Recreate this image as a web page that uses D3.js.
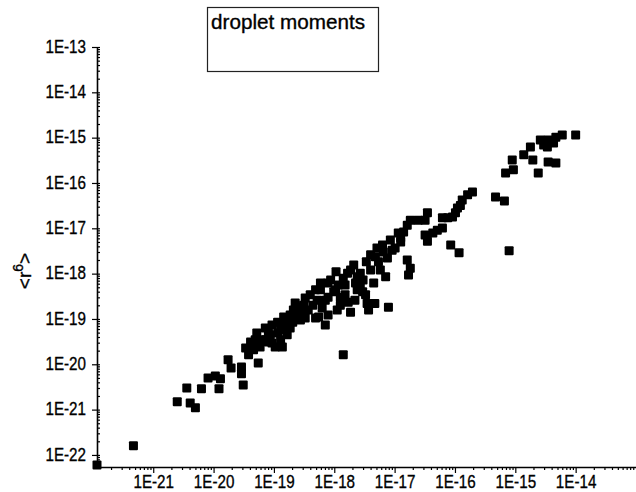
<!DOCTYPE html>
<html><head><meta charset="utf-8">
<script src="https://cdn.jsdelivr.net/npm/d3@7"></script>
<style>body{margin:0;background:#fff}svg{display:block}</style>
</head><body><svg id="c" width="636" height="492"></svg>
<script>
// <r^3> (x) values
const xVals = [
1.17e-22,4.7e-22,2.5e-21,3.6e-21,4.1e-21,5.0e-21,6.3e-21,8.1e-21,1.07e-20,1.3e-20,
1.23e-20,1.74e-20,1.95e-20,2.9e-20,2.9e-20,3.1e-20,5.5e-20,3.4e-20,4.1e-20,4.6e-20,
5.2e-20,5.9e-20,6.6e-20,7.2e-20,8.1e-20,9.3e-20,9.3e-20,1.05e-19,1.15e-19,1.38e-19,
1.45e-19,1.66e-19,1.86e-19,2.1e-19,2.75e-19,2.75e-19,3.3e-19,3.3e-19,3.1e-19,4.9e-19,
4.9e-19,5.2e-19,5.5e-19,7.1e-19,8.7e-19,7.9e-19,1.12e-18,1.41e-18,1.86e-18,1.66e-18,
2.1e-18,2.7e-18,2.4e-18,3.7e-18,4.7e-18,4.5e-18,5.8e-18,7.1e-18,7.6e-18,5.1e-18,
7.9e-18,1.62e-17,1.82e-17,1.7e-17,1.02e-17,1.26e-17,3.5e-17,8.5e-17,1.17e-16,7.9e-16,
1.0e-14,6.0e-15,4.7e-15,3.5e-15,2.95e-15,2.6e-15,4.3e-15,3.4e-15,1.78e-15,1.38e-15,
1.95e-15,8.9e-16,9.3e-16,6.9e-16,3.5e-15,4.7e-15,2.4e-15,4.7e-16,6.6e-16,1.95e-16,
1.62e-16,1.32e-16,1.23e-16,1.1e-16,1.02e-16,9.1e-17,7.6e-17,6.2e-17,3.5e-17,3.2e-17,
2.45e-17,1.82e-17,1.62e-17,1.41e-17,1.26e-17,6.2e-17,5.1e-17,4.3e-17,3.2e-17,6.3e-18,
1.15e-17,9.1e-18,6.5e-18,4.8e-18,1.86e-18,2.4e-18,7.8e-19,3.5e-18,5.9e-19,7.1e-19,
9.8e-19,1.17e-18,1.26e-18,1.51e-18,1.07e-18,4.0e-19,4.4e-19,6.3e-19,2.25e-19,1.86e-19,
1.55e-19,1.29e-19,8.7e-20,4.9e-20,3.8e-20,5.5e-20,3.4e-18,4.0e-18,5.4e-18,8.5e-18,
3.0e-18,1.51e-18,2.2e-18,2.95e-18,7.9e-19,
1.05e-18,1.41e-18,5.9e-19,2.75e-19,3.7e-19,2.25e-19,1.74e-19,1.17e-19,7.4e-20,1.26e-18,
1.7e-18,2.7e-18,3.3e-18,2.25e-18,4.0e-18,1.29e-19,2.05e-19,1.55e-19,8.1e-20
];
// <r^6> (y) values
const yVals = [
6.0e-23,1.6e-22,1.5e-21,3.0e-21,1.4e-21,1.1e-21,2.9e-21,5.0e-21,5.5e-21,4.8e-21,
2.9e-21,1.26e-20,8.3e-21,8.7e-21,6.2e-21,3.5e-21,1.07e-20,2.3e-20,3.1e-20,2.1e-20,
4.9e-20,2.4e-20,3.5e-20,6.3e-20,4.9e-20,7.4e-20,2.95e-20,2.4e-20,8.5e-20,2.4e-20,
1.1e-19,4.5e-20,6.3e-20,1.58e-19,1.35e-19,9.5e-20,2.9e-19,1.05e-19,2.0e-19,4.4e-19,
1.05e-19,2.6e-19,1.1e-19,7.4e-20,7.2e-19,3.0e-19,1.58e-19,1.62e-20,1.41e-19,1.02e-18,
1.55e-18,1.02e-18,4.4e-19,1.58e-19,2.2e-19,6.2e-19,1.2e-18,8.5e-19,2.2e-18,3.7e-18,
1.82e-19,2.0e-18,1.32e-18,9.3e-19,3.7e-18,5.0e-18,5.2e-18,4.3e-18,2.9e-18,3.2e-18,
1.15e-15,1.15e-15,1.02e-15,8.9e-16,6.9e-16,8.9e-16,7.6e-16,6.2e-16,6.2e-16,4.2e-16,
3.2e-16,3.2e-16,1.95e-16,1.66e-16,2.9e-16,2.75e-16,1.66e-16,4.9e-17,4.0e-17,6.3e-17,
5.5e-17,4.2e-17,3.2e-17,2.8e-17,2.2e-17,1.78e-17,1.7e-17,1.7e-17,2.2e-17,1.51e-17,
1.51e-17,1.51e-17,1.17e-17,8.3e-18,6.2e-18,1.02e-17,9.1e-18,7.9e-18,7.1e-18,4.3e-18,
7.9e-18,3.3e-18,3.0e-18,2.35e-18,1.2e-18,8.5e-19,6.2e-19,2.2e-19,4.4e-19,2.6e-19,
4.0e-19,5.6e-19,3.0e-19,5.6e-19,1.1e-18,3.4e-19,2.0e-19,1.74e-19,2.25e-19,1.23e-19,
8.5e-20,6.6e-20,4.5e-20,3.5e-20,1.62e-20,2.7e-20,1.82e-18,2.6e-18,1.82e-18,5.5e-18,
7.2e-19,3.4e-19,2.6e-19,4.0e-19,1.23e-19,
4.4e-19,7.9e-19,6.2e-19,1.82e-19,1.58e-19,1.05e-19,8.5e-20,4.9e-20,3.5e-20,2.0e-19,
2.35e-19,5.6e-19,3.4e-19,6.2e-19,1.2e-18,3.5e-20,8.5e-20,5.8e-20,3.1e-20
];
const xTickLabels = ["1E-21","1E-20","1E-19","1E-18","1E-17","1E-16","1E-15","1E-14"];
const yTickLabels = ["1E-22","1E-21","1E-20","1E-19","1E-18","1E-17","1E-16","1E-15","1E-14","1E-13"];
const legendTitle = "droplet moments";

const FONT = "'Liberation Sans', Arial, sans-serif";
const svg = d3.select("#c");
const x = d3.scaleLog().domain([1.17e-22, 1e-13]).range([97, 636]);
const y = d3.scaleLog().domain([5.42e-23, 1e-13]).range([467, 47]);

function minorTicks(scale) {
  const [a, b] = scale.domain();
  const out = [];
  for (let k = Math.floor(Math.log10(a)); k <= Math.ceil(Math.log10(b)); k++) {
    for (let m = 2; m <= 9; m++) {
      const v = m * Math.pow(10, k);
      if (v >= a && v <= b) out.push(v);
    }
  }
  return out;
}
function condense(sel, f) {
  sel.each(function () {
    const len = this.getComputedTextLength();
    d3.select(this).attr("textLength", len * f).attr("lengthAdjust", "spacingAndGlyphs");
  });
}

// X axis
const xMajor = xTickLabels.map(Number);
const gx = svg.append("g").attr("transform", "translate(0,467)");
gx.call(d3.axisBottom(x).tickValues(minorTicks(x)).tickSize(3).tickSizeOuter(0).tickFormat(""));
const gx2 = svg.append("g").attr("transform", "translate(0,467)");
gx2.call(d3.axisBottom(x).tickValues(xMajor).tickSize(6).tickPadding(2).tickSizeOuter(0)
  .tickFormat((d, i) => xTickLabels[i]));
gx2.select(".domain").remove();

// Y axis
const yMajor = yTickLabels.map(Number);
const gy = svg.append("g").attr("transform", "translate(97,0)");
gy.call(d3.axisRight(y).tickValues(minorTicks(y).concat(yMajor)).tickSize(3).tickSizeOuter(0).tickFormat(""));
const gy2 = svg.append("g").attr("transform", "translate(97,0)");
gy2.call(d3.axisLeft(y).tickValues(yMajor).tickSize(5).tickPadding(6).tickSizeOuter(0)
  .tickFormat((d, i) => yTickLabels[i]));
gy2.select(".domain").remove();

svg.selectAll(".domain").attr("stroke", "#000").attr("stroke-width", 1.6);
svg.selectAll(".tick line").attr("stroke", "#000").attr("stroke-width", 1.2);
svg.selectAll(".tick text").attr("fill", "#000").attr("stroke", "#000").attr("stroke-width", 0.35)
  .style("font-family", FONT).style("font-size", "19px");
gy2.selectAll(".tick text").attr("dy", "0.28em");
condense(svg.selectAll(".tick text"), 0.8);

// points
const pts = xVals.map((v, i) => ({ x: v, y: yVals[i] }));
const S = 9;
svg.append("g").selectAll("rect").data(pts).join("rect")
  .attr("x", d => x(d.x) - S / 2).attr("y", d => y(d.y) - S / 2)
  .attr("width", S).attr("height", S).attr("rx", 1).attr("fill", "#000");

// legend box
svg.append("rect").attr("x", 207.5).attr("y", 7.5).attr("width", 171).attr("height", 64)
  .attr("fill", "none").attr("stroke", "#222").attr("stroke-width", 1.2);
svg.append("text").attr("x", 211).attr("y", 29).text(legendTitle)
  .style("font-family", FONT).style("font-size", "21px").attr("fill", "#000")
  .attr("stroke", "#000").attr("stroke-width", 0.35)
  .attr("textLength", 154).attr("lengthAdjust", "spacingAndGlyphs");

// y axis title <r^6>
const yt = svg.append("text").attr("transform", "translate(31,271) rotate(-90)")
  .attr("text-anchor", "middle").style("font-family", FONT).style("font-size", "19px")
  .attr("fill", "#000").attr("stroke", "#000").attr("stroke-width", 0.35);
yt.append("tspan").text("<r");
yt.append("tspan").attr("dy", -8).style("font-size", "14px").text("6");
yt.append("tspan").attr("dy", 8).text(">");
</script></body></html>
